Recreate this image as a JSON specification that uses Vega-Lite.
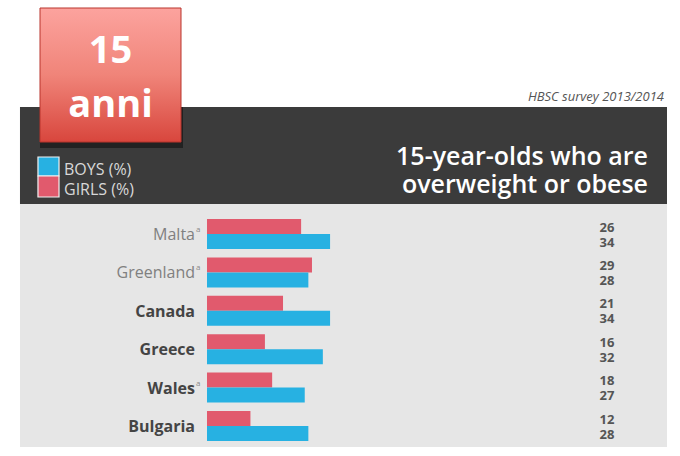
{
  "$schema": "https://vega.github.io/schema/vega-lite/v6.json",
  "width": 680,
  "height": 456,
  "autosize": {"type": "fit", "contains": "padding"},
  "padding": 0,
  "background": "#ffffff",
  "config": {"view": {"stroke": null}, "font": "Open Sans"},
  "datasets": {
    "shares": [
      {"country": "Malta", "sex": "Girls", "pct": 26},
      {"country": "Malta", "sex": "Boys", "pct": 34},
      {"country": "Greenland", "sex": "Girls", "pct": 29},
      {"country": "Greenland", "sex": "Boys", "pct": 28},
      {"country": "Canada", "sex": "Girls", "pct": 21},
      {"country": "Canada", "sex": "Boys", "pct": 34},
      {"country": "Greece", "sex": "Girls", "pct": 16},
      {"country": "Greece", "sex": "Boys", "pct": 32},
      {"country": "Wales", "sex": "Girls", "pct": 18},
      {"country": "Wales", "sex": "Boys", "pct": 27},
      {"country": "Bulgaria", "sex": "Girls", "pct": 12},
      {"country": "Bulgaria", "sex": "Boys", "pct": 28}
    ],
    "countries": [
      {"country": "Malta", "note": "a", "sigGap": false},
      {"country": "Greenland", "note": "a", "sigGap": false},
      {"country": "Canada", "note": "", "sigGap": true},
      {"country": "Greece", "note": "", "sigGap": true},
      {"country": "Wales", "note": "a", "sigGap": true},
      {"country": "Bulgaria", "note": "", "sigGap": true}
    ]
  },
  "resolve": {"scale": {"y": "independent"}},
  "layer": [
    {
      "description": "Page furniture: panel, header band, age badge, legend and titles",
      "layer": [
        {
          "data": {"values": [{"x0": -51.66, "x1": 127.07, "top": 204, "bottom": 447}]},
          "mark": {"type": "rect", "color": "#e6e6e6"},
          "encoding": {
            "x": {"field": "x0", "type": "quantitative", "scale": {"domain": [-57.18, 130.66], "nice": false, "zero": false}, "axis": null},
            "x2": {"field": "x1"},
            "y": {"field": "top", "type": "quantitative", "scale": {"domain": [0, 456], "reverse": true, "nice": false, "zero": false}, "axis": null},
            "y2": {"field": "bottom"}
          }
        },
        {
          "data": {"values": [{"x0": -51.66, "x1": 127.07, "top": 107, "bottom": 204}]},
          "mark": {"type": "rect", "color": "#3b3b3b"},
          "encoding": {
            "x": {"field": "x0", "type": "quantitative", "scale": {"domain": [-57.18, 130.66], "nice": false, "zero": false}, "axis": null},
            "x2": {"field": "x1"},
            "y": {"field": "top", "type": "quantitative", "scale": {"domain": [0, 456], "reverse": true, "nice": false, "zero": false}, "axis": null},
            "y2": {"field": "bottom"}
          }
        },
        {
          "data": {"values": [{"x0": -46.13, "x1": -6.63, "top": 107, "bottom": 148}]},
          "mark": {"type": "rect", "color": "#222222"},
          "encoding": {
            "x": {"field": "x0", "type": "quantitative", "scale": {"domain": [-57.18, 130.66], "nice": false, "zero": false}, "axis": null},
            "x2": {"field": "x1"},
            "y": {"field": "top", "type": "quantitative", "scale": {"domain": [0, 456], "reverse": true, "nice": false, "zero": false}, "axis": null},
            "y2": {"field": "bottom"}
          }
        },
        {
          "data": {"values": [{"x0": -46.13, "x1": -7.18, "top": 8, "bottom": 142}]},
          "mark": {
            "type": "rect",
            "stroke": "#b9342d",
            "strokeWidth": 1,
            "fill": {
              "gradient": "linear",
              "x1": 0, "y1": 0, "x2": 0, "y2": 1,
              "stops": [
                {"offset": 0, "color": "#fca39e"},
                {"offset": 0.5, "color": "#f08479"},
                {"offset": 1, "color": "#d8463d"}
              ]
            }
          },
          "encoding": {
            "x": {"field": "x0", "type": "quantitative", "scale": {"domain": [-57.18, 130.66], "nice": false, "zero": false}, "axis": null},
            "x2": {"field": "x1"},
            "y": {"field": "top", "type": "quantitative", "scale": {"domain": [0, 456], "reverse": true, "nice": false, "zero": false}, "axis": null},
            "y2": {"field": "bottom"}
          }
        },
        {
          "data": {"values": [{"label": "15", "cx": -26.66, "base": 63}, {"label": "anni", "cx": -26.66, "base": 117}]},
          "mark": {"type": "text", "color": "#ffffff", "font": "Open Sans", "fontWeight": "bold", "fontSize": 38, "align": "center", "baseline": "alphabetic"},
          "encoding": {
            "x": {"field": "cx", "type": "quantitative", "scale": {"domain": [-57.18, 130.66], "nice": false, "zero": false}, "axis": null},
            "y": {"field": "base", "type": "quantitative", "scale": {"domain": [0, 456], "reverse": true, "nice": false, "zero": false}, "axis": null},
            "text": {"field": "label"}
          }
        },
        {
          "data": {"values": [{"label": "HBSC survey 2013/2014", "cx": 126.24, "base": 101}]},
          "mark": {"type": "text", "color": "#555555", "font": "Open Sans", "fontStyle": "italic", "fontSize": 13, "align": "right", "baseline": "alphabetic"},
          "encoding": {
            "x": {"field": "cx", "type": "quantitative", "scale": {"domain": [-57.18, 130.66], "nice": false, "zero": false}, "axis": null},
            "y": {"field": "base", "type": "quantitative", "scale": {"domain": [0, 456], "reverse": true, "nice": false, "zero": false}, "axis": null},
            "text": {"field": "label"}
          }
        },
        {
          "data": {"values": [{"label": ["15-year-olds who are", "overweight or obese"], "cx": 121.82, "base": 165}]},
          "mark": {"type": "text", "color": "#ffffff", "font": "Open Sans", "fontWeight": 600, "fontSize": 25, "lineHeight": 28, "align": "right", "baseline": "alphabetic"},
          "encoding": {
            "x": {"field": "cx", "type": "quantitative", "scale": {"domain": [-57.18, 130.66], "nice": false, "zero": false}, "axis": null},
            "y": {"field": "base", "type": "quantitative", "scale": {"domain": [0, 456], "reverse": true, "nice": false, "zero": false}, "axis": null},
            "text": {"field": "label"}
          }
        },
        {
          "data": {"values": [
            {"sex": "Boys", "label": "BOYS (%)", "x0": -46.69, "x1": -40.88, "top": 157, "bottom": 176, "base": 175},
            {"sex": "Girls", "label": "GIRLS (%)", "x0": -46.69, "x1": -40.88, "top": 176, "bottom": 197, "base": 195}
          ]},
          "layer": [
            {
              "mark": {"type": "rect", "stroke": "#f2f2f2", "strokeWidth": 1.2},
              "encoding": {
                "x": {"field": "x0", "type": "quantitative", "scale": {"domain": [-57.18, 130.66], "nice": false, "zero": false}, "axis": null},
                "x2": {"field": "x1"},
                "y": {"field": "top", "type": "quantitative", "scale": {"domain": [0, 456], "reverse": true, "nice": false, "zero": false}, "axis": null},
                "y2": {"field": "bottom"},
                "color": {"field": "sex", "type": "nominal", "scale": {"domain": ["Boys", "Girls"], "range": ["#27b1e2", "#e15a6d"]}, "legend": null}
              }
            },
            {
              "mark": {"type": "text", "color": "#d8d8d8", "font": "Open Sans", "fontSize": 16, "align": "left", "baseline": "alphabetic", "dx": 5},
              "encoding": {
                "x": {"field": "x1", "type": "quantitative", "scale": {"domain": [-57.18, 130.66], "nice": false, "zero": false}, "axis": null},
                "y": {"field": "base", "type": "quantitative", "scale": {"domain": [0, 456], "reverse": true, "nice": false, "zero": false}, "axis": null},
                "text": {"field": "label"}
              }
            }
          ]
        }
      ]
    },
    {
      "description": "Grouped bars: share of 15-year-olds overweight or obese, girls above boys",
      "layer": [
        {
          "data": {"name": "shares"},
          "mark": {"type": "bar"},
          "encoding": {
            "x": {"field": "pct", "type": "quantitative", "scale": {"domain": [-57.18, 130.66], "nice": false, "zero": false}, "axis": null},
            "x2": {"datum": 0},
            "y": {"field": "country", "type": "nominal", "sort": null, "scale": {"domain": ["Malta", "Greenland", "Canada", "Greece", "Wales", "Bulgaria"], "range": [219, 441], "paddingInner": 0.21875, "paddingOuter": 0}, "axis": null},
            "yOffset": {"field": "sex", "type": "nominal", "scale": {"domain": ["Girls", "Boys"], "paddingInner": 0, "paddingOuter": 0}},
            "color": {"field": "sex", "type": "nominal", "scale": {"domain": ["Boys", "Girls"], "range": ["#27b1e2", "#e15a6d"]}, "legend": null}
          }
        },
        {
          "data": {"name": "shares"},
          "mark": {"type": "text", "color": "#555555", "font": "Liberation Sans Narrow, Open Sans", "fontWeight": "bold", "fontSize": 13, "align": "center", "baseline": "middle", "dy": 1},
          "encoding": {
            "x": {"datum": 110.5, "type": "quantitative", "scale": {"domain": [-57.18, 130.66], "nice": false, "zero": false}, "axis": null},
            "y": {"field": "country", "type": "nominal", "sort": null, "scale": {"domain": ["Malta", "Greenland", "Canada", "Greece", "Wales", "Bulgaria"], "range": [219, 441], "paddingInner": 0.21875, "paddingOuter": 0}, "axis": null},
            "yOffset": {"field": "sex", "type": "nominal", "scale": {"domain": ["Girls", "Boys"], "paddingInner": 0, "paddingOuter": 0}},
            "text": {"field": "pct", "type": "quantitative"}
          }
        },
        {
          "data": {"name": "countries"},
          "transform": [{"filter": "!datum.sigGap"}],
          "mark": {"type": "text", "font": "Open Sans", "fontSize": 16, "align": "right", "baseline": "middle", "dy": 1, "color": "#808080"},
          "encoding": {
            "x": {"datum": -3.31, "type": "quantitative", "scale": {"domain": [-57.18, 130.66], "nice": false, "zero": false}, "axis": null},
            "y": {"field": "country", "type": "nominal", "sort": null, "scale": {"domain": ["Malta", "Greenland", "Canada", "Greece", "Wales", "Bulgaria"], "range": [219, 441], "paddingInner": 0.21875, "paddingOuter": 0}, "axis": null},
            "text": {"field": "country"}
          }
        },
        {
          "data": {"name": "countries"},
          "transform": [{"filter": "datum.sigGap"}],
          "mark": {"type": "text", "font": "Open Sans", "fontSize": 16, "fontWeight": "bold", "align": "right", "baseline": "middle", "dy": 1, "color": "#444444"},
          "encoding": {
            "x": {"datum": -3.31, "type": "quantitative", "scale": {"domain": [-57.18, 130.66], "nice": false, "zero": false}, "axis": null},
            "y": {"field": "country", "type": "nominal", "sort": null, "scale": {"domain": ["Malta", "Greenland", "Canada", "Greece", "Wales", "Bulgaria"], "range": [219, 441], "paddingInner": 0.21875, "paddingOuter": 0}, "axis": null},
            "text": {"field": "country"}
          }
        },
        {
          "data": {"name": "countries"},
          "transform": [{"filter": "datum.note != ''"}],
          "mark": {"type": "text", "font": "Open Sans", "fontSize": 8, "align": "left", "baseline": "middle", "dx": 1, "dy": -4, "color": "#8a8a8a"},
          "encoding": {
            "x": {"datum": -3.31, "type": "quantitative", "scale": {"domain": [-57.18, 130.66], "nice": false, "zero": false}, "axis": null},
            "y": {"field": "country", "type": "nominal", "sort": null, "scale": {"domain": ["Malta", "Greenland", "Canada", "Greece", "Wales", "Bulgaria"], "range": [219, 441], "paddingInner": 0.21875, "paddingOuter": 0}, "axis": null},
            "text": {"field": "note"}
          }
        }
      ]
    }
  ]
}
